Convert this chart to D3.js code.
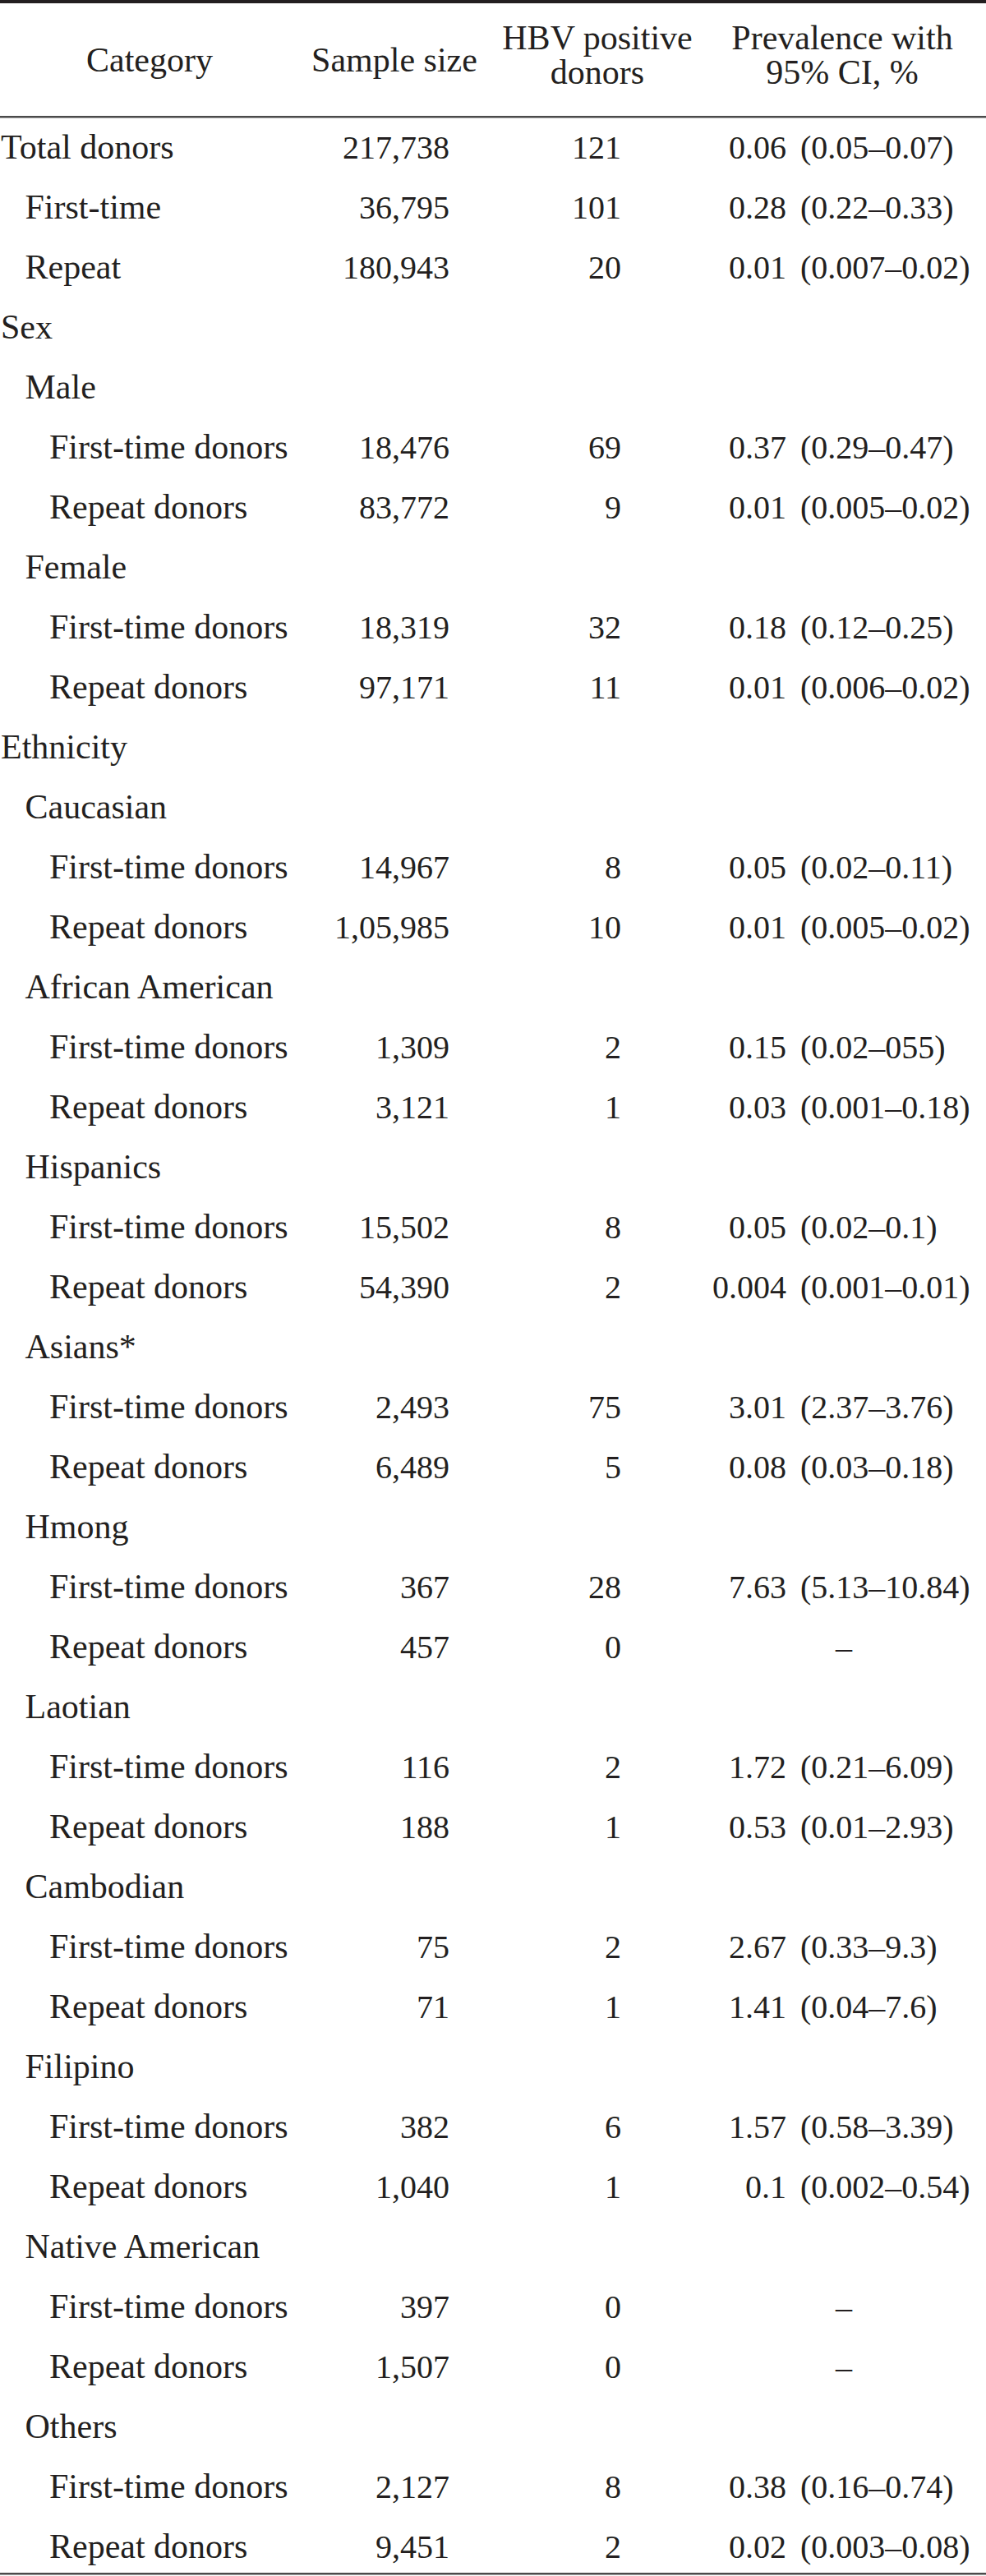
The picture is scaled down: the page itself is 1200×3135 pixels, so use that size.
<!DOCTYPE html>
<html>
<head>
<meta charset="utf-8">
<script src="https://cdn.jsdelivr.net/npm/d3@7"></script>
<style>
  body { margin: 0; background: #fff; }
  text { font-family: "Liberation Serif", "DejaVu Serif", serif; fill: #231f20; }
</style>
</head>
<body>
<div id="main"></div>
<script>
var width = 1200;
var height = 3135;

// table contents
var headers = [
  ["Category"],
  ["Sample size"],
  ["HBV positive", "donors"],
  ["Prevalence with", "95% CI, %"]
];

var categories = [
  "Total donors", "First-time", "Repeat",
  "Sex", "Male", "First-time donors", "Repeat donors",
  "Female", "First-time donors", "Repeat donors",
  "Ethnicity", "Caucasian", "First-time donors", "Repeat donors",
  "African American", "First-time donors", "Repeat donors",
  "Hispanics", "First-time donors", "Repeat donors",
  "Asians*", "First-time donors", "Repeat donors",
  "Hmong", "First-time donors", "Repeat donors",
  "Laotian", "First-time donors", "Repeat donors",
  "Cambodian", "First-time donors", "Repeat donors",
  "Filipino", "First-time donors", "Repeat donors",
  "Native American", "First-time donors", "Repeat donors",
  "Others", "First-time donors", "Repeat donors"
];

var levels = [
  0, 1, 1,
  0, 1, 2, 2,
  1, 2, 2,
  0, 1, 2, 2,
  1, 2, 2,
  1, 2, 2,
  1, 2, 2,
  1, 2, 2,
  1, 2, 2,
  1, 2, 2,
  1, 2, 2,
  1, 2, 2,
  1, 2, 2
];

var sampleSizes = [
  "217,738", "36,795", "180,943",
  "", "", "18,476", "83,772",
  "", "18,319", "97,171",
  "", "", "14,967", "1,05,985",
  "", "1,309", "3,121",
  "", "15,502", "54,390",
  "", "2,493", "6,489",
  "", "367", "457",
  "", "116", "188",
  "", "75", "71",
  "", "382", "1,040",
  "", "397", "1,507",
  "", "2,127", "9,451"
];

var positives = [
  "121", "101", "20",
  "", "", "69", "9",
  "", "32", "11",
  "", "", "8", "10",
  "", "2", "1",
  "", "8", "2",
  "", "75", "5",
  "", "28", "0",
  "", "2", "1",
  "", "2", "1",
  "", "6", "1",
  "", "0", "0",
  "", "8", "2"
];

var prevalence = [
  "0.06", "0.28", "0.01",
  "", "", "0.37", "0.01",
  "", "0.18", "0.01",
  "", "", "0.05", "0.01",
  "", "0.15", "0.03",
  "", "0.05", "0.004",
  "", "3.01", "0.08",
  "", "7.63", "–",
  "", "1.72", "0.53",
  "", "2.67", "1.41",
  "", "1.57", "0.1",
  "", "–", "–",
  "", "0.38", "0.02"
];

var confInt = [
  "(0.05–0.07)", "(0.22–0.33)", "(0.007–0.02)",
  "", "", "(0.29–0.47)", "(0.005–0.02)",
  "", "(0.12–0.25)", "(0.006–0.02)",
  "", "", "(0.02–0.11)", "(0.005–0.02)",
  "", "(0.02–055)", "(0.001–0.18)",
  "", "(0.02–0.1)", "(0.001–0.01)",
  "", "(2.37–3.76)", "(0.03–0.18)",
  "", "(5.13–10.84)", "",
  "", "(0.21–6.09)", "(0.01–2.93)",
  "", "(0.33–9.3)", "(0.04–7.6)",
  "", "(0.58–3.39)", "(0.002–0.54)",
  "", "", "",
  "", "(0.16–0.74)", "(0.003–0.08)"
];

var rows = categories.map(function(c, i) {
  return {
    category: c,
    level: levels[i],
    size: sampleSizes[i],
    pos: positives[i],
    prev: prevalence[i],
    ci: confInt[i]
  };
});

var svg = d3.select('#main')
  .append('svg')
  .attr('width', width)
  .attr('height', height);

// baseline of each body row
var y = d3.scaleLinear()
  .domain([0, rows.length - 1])
  .range([193, 3113]);

var indent = d3.scaleLinear()
  .domain([0, 2])
  .range([1, 60]);

// column anchors
var headerX = [182, 480, 727, 1025];
var sizeRight = 547;
var posRight = 756;
var prevRight = 957;
var ciLeft = 974;
var dashCenter = 1027;

// rules
svg.append('rect')
  .attr('x', 0).attr('y', 0)
  .attr('width', width).attr('height', 4)
  .attr('fill', '#231f20');

svg.append('rect')
  .attr('x', 0).attr('y', 141)
  .attr('width', width).attr('height', 2.5)
  .attr('fill', '#4a4a4a');

svg.append('rect')
  .attr('x', 0).attr('y', 3131)
  .attr('width', width).attr('height', 2.5)
  .attr('fill', '#4a4a4a');

// header
var head = svg.append('g').attr('class', 'header');
headers.forEach(function(lines, i) {
  var t = head.append('text')
    .attr('x', headerX[i])
    .attr('text-anchor', 'middle')
    .style('font-size', '42px');
  if (lines.length === 1) {
    t.attr('y', 87).text(lines[0]);
  } else {
    t.selectAll('tspan')
      .data(lines)
      .enter().append('tspan')
      .attr('x', headerX[i])
      .attr('y', function(d, j) { return j === 0 ? 60 : 102; })
      .text(function(d) { return d; });
  }
});

// body
var body = svg.append('g').attr('class', 'body');

var row = body.selectAll('g.row')
  .data(rows)
  .enter().append('g')
  .attr('class', 'row')
  .attr('transform', function(d, i) { return 'translate(0,' + y(i) + ')'; });

row.append('text')
  .attr('x', function(d) { return indent(d.level); })
  .style('font-size', '42px')
  .text(function(d) { return d.category; });

row.append('text')
  .attr('x', sizeRight)
  .attr('text-anchor', 'end')
  .style('font-size', '40px')
  .text(function(d) { return d.size; });

row.append('text')
  .attr('x', posRight)
  .attr('text-anchor', 'end')
  .style('font-size', '40px')
  .text(function(d) { return d.pos; });

row.append('text')
  .attr('x', function(d) { return d.prev === '–' ? dashCenter : prevRight; })
  .attr('text-anchor', function(d) { return d.prev === '–' ? 'middle' : 'end'; })
  .style('font-size', '40px')
  .text(function(d) { return d.prev; });

row.append('text')
  .attr('x', ciLeft)
  .style('font-size', '40px')
  .text(function(d) { return d.ci; });
</script>
</body>
</html>
